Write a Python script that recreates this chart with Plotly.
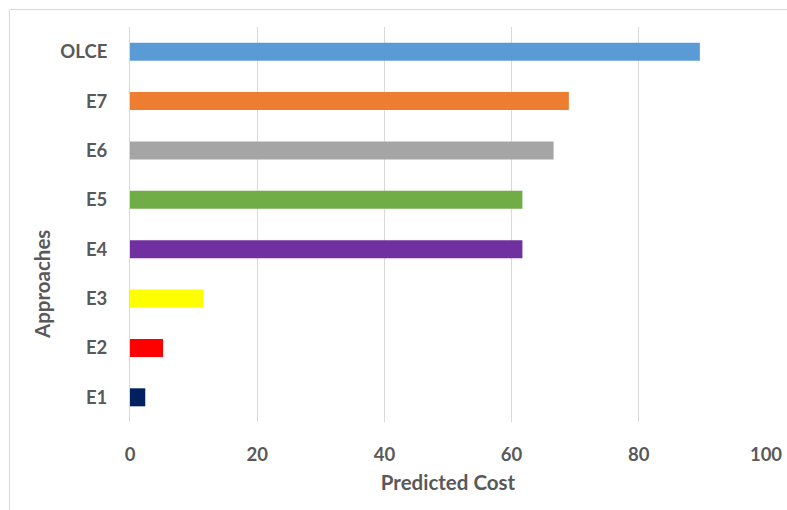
import plotly.graph_objects as go

# Approaches listed bottom-to-top as drawn on the y axis
approaches = ["E1", "E2", "E3", "E4", "E5", "E6", "E7", "OLCE"]
predicted_cost = [2.4, 5.2, 11.6, 61.7, 61.7, 66.6, 69.0, 89.6]
bar_colors = ["#002060", "#FF0000", "#FFFF00", "#7030A0",
              "#70AD47", "#A5A5A5", "#ED7D31", "#5B9BD5"]
x_ticks = [0, 20, 40, 60, 80, 100]

text_color = "#595959"
font_family = "Lato, 'Open Sans', sans-serif"
tick_font = dict(family=font_family, size=18.5, color=text_color, weight="bold")
title_font = dict(family=font_family, size=20.5, color=text_color, weight="bold")

fig = go.Figure(
    go.Bar(
        x=predicted_cost,
        y=approaches,
        orientation="h",
        marker=dict(color=bar_colors, line=dict(width=0)),
        hoverinfo="x+y",
    )
)

fig.update_layout(
    width=787,
    height=510,
    margin=dict(l=130, r=21, t=27, b=88),
    paper_bgcolor="white",
    plot_bgcolor="white",
    bargap=0.635,
    showlegend=False,
    font=dict(family=font_family, color=text_color, size=18),
    xaxis=dict(
        range=[0, 100],
        tickvals=x_ticks,
        ticktext=[str(v) for v in x_ticks],
        automargin=False,
        showgrid=True,
        gridcolor="#D9D9D9",
        gridwidth=1,
        zeroline=False,
        showline=False,
        ticks="",
        ticklabelstandoff=19,
        tickfont=tick_font,
        title=dict(text="Predicted Cost", font=title_font, standoff=12),
    ),
    yaxis=dict(
        categoryorder="array",
        categoryarray=approaches,
        automargin=False,
        showgrid=False,
        zeroline=False,
        showline=True,
        linecolor="#D9D9D9",
        linewidth=1,
        ticks="",
        ticklabelstandoff=18,
        tickfont=tick_font,
    ),
    annotations=[
        # y-axis title, sitting a little below the middle of the axis
        dict(
            text="Approaches",
            xref="paper", yref="paper",
            x=-0.1385, y=0.349,
            xanchor="center", yanchor="middle",
            textangle=-90,
            showarrow=False,
            font=title_font,
        )
    ],
    shapes=[
        # chart-area frame (top and left edges visible)
        dict(
            type="rect",
            xref="paper", yref="paper",
            x0=-0.1896, x1=1.2, y0=-0.4, y1=1.0443,
            line=dict(color="#D9D9D9", width=1),
            fillcolor="rgba(0,0,0,0)",
            layer="below",
        )
    ],
)

fig.write_html("out.html")
